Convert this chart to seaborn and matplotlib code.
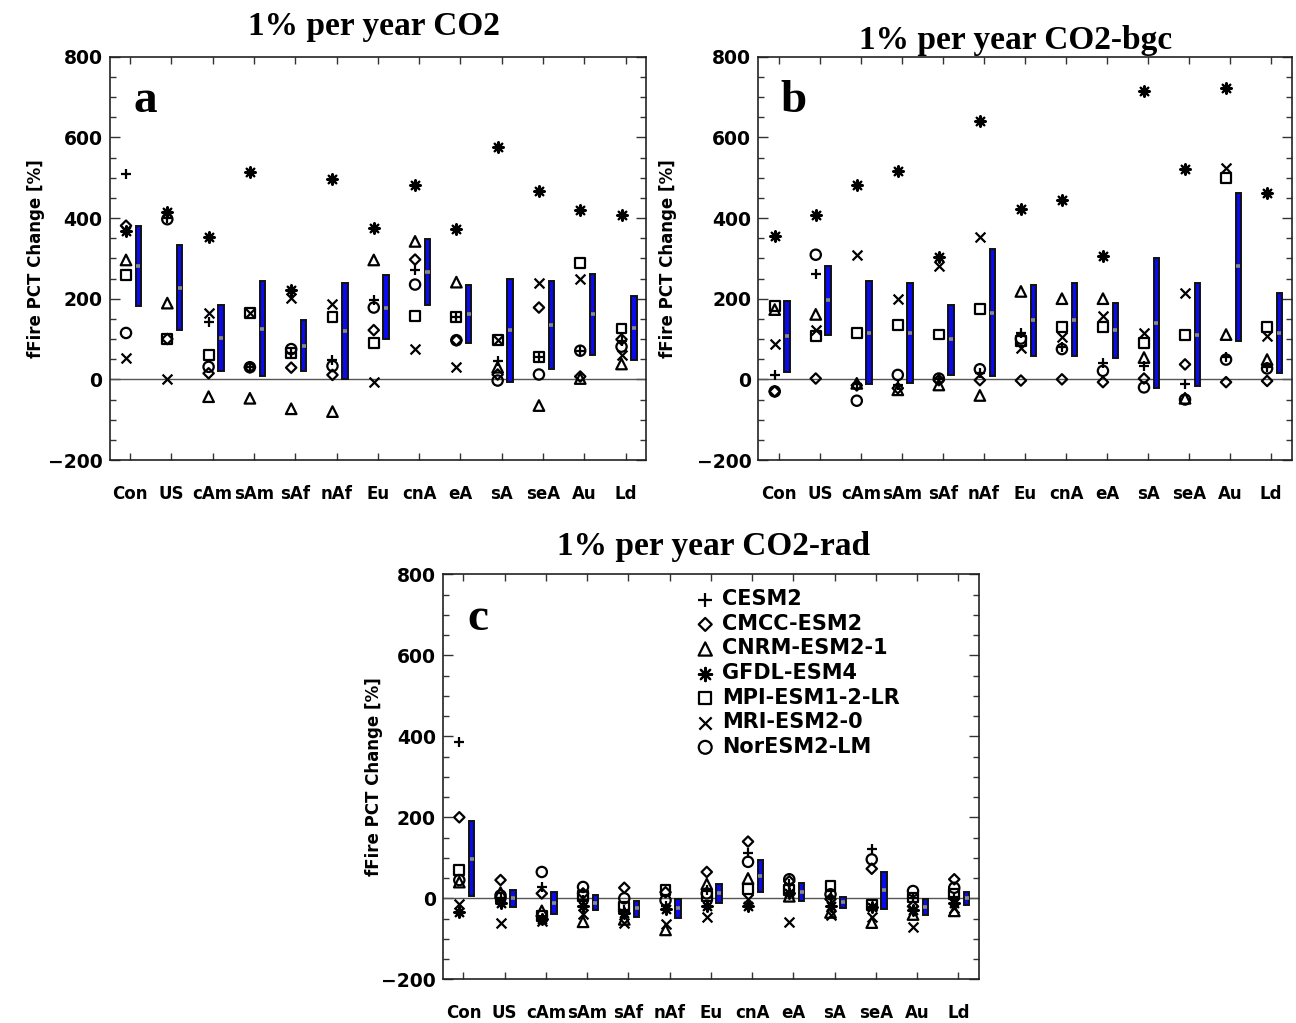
import numpy as np
import pandas as pd
import matplotlib
matplotlib.use("Agg")
import matplotlib.pyplot as plt
import seaborn as sns
from matplotlib.ticker import MultipleLocator, FixedLocator

# ---------------- data ----------------
regions = ["Con", "US", "cAm", "sAm", "sAf", "nAf", "Eu", "cnA", "eA", "sA", "seA", "Au", "Ld"]
models = ["CESM2", "CMCC-ESM2", "CNRM-ESM2-1", "GFDL-ESM4", "MPI-ESM1-2-LR", "MRI-ESM2-0", "NorESM2-LM"]

# Panel a: 1% per year CO2
a_cesm2 = [509, 400, 142, 30, 65, 48, 196, 272, 155, 45, 56, 71, 95]
a_cmcc = [381, 100, 15, 30, 29, 11, 122, 297, 97, 12, 178, 7, 99]
a_cnrm = [296, 189, -43, -47, -73, -80, 296, 342, 241, 30, -65, 2, 38]
a_gfdl = [367, 414, 352, 514, 221, 496, 375, 482, 374, 576, 466, 420, 407]
a_mpi = [259, 101, 60, 165, 65, 155, 91, 157, 155, 97, 56, 288, 126]
a_mri = [52, 2, 165, 165, 202, 188, -6, 75, 30, 97, 240, 249, 60]
a_nor = [115, 397, 31, 30, 75, 33, 178, 235, 97, -3, 12, 71, 81]
a_bar_low = [181, 122, 21, 8, 21, 2, 99, 185, 91, -6, 25, 60, 49]
a_bar_high = [381, 333, 185, 244, 146, 239, 259, 348, 235, 249, 245, 260, 207]
a_bar_mean = [281, 227, 103, 126, 83, 120, 178, 266, 163, 122, 134, 161, 128]

# Panel b: 1% per year CO2-bgc
b_cesm2 = [11, 262, -12, -15, 2, 16, 114, 80, 40, 33, -12, 55, 30]
b_cmcc = [-30, 2, -15, -22, -2, -2, -3, 0, -7, 2, 37, -7, -4]
b_cnrm = [173, 161, -10, -26, -14, -40, 218, 200, 200, 54, -47, 111, 49]
b_gfdl = [355, 407, 481, 517, 303, 640, 422, 444, 305, 714, 521, 723, 463]
b_mpi = [181, 107, 115, 134, 111, 174, 95, 130, 130, 91, 109, 499, 130]
b_mri = [87, 122, 309, 200, 282, 354, 77, 105, 157, 115, 215, 523, 107]
b_nor = [-30, 309, -53, 11, 2, 25, 101, 75, 21, -20, -50, 49, 27]
b_bar_low = [19, 109, -12, -8, 11, 9, 58, 58, 52, -21, -16, 95, 15]
b_bar_high = [194, 282, 245, 239, 185, 322, 233, 239, 190, 301, 239, 462, 215]
b_bar_mean = [107, 196, 116, 115, 99, 165, 146, 148, 122, 140, 111, 280, 114]

# Panel c: 1% per year CO2-rad
c_cesm2 = [385, -2, 28, -5, -30, -20, 20, 111, 35, 2, 121, 0, 2]
c_cmcc = [200, 45, 12, 12, 26, 15, 65, 140, 42, -2, 73, -20, 47]
c_cnrm = [40, 14, -31, -58, -52, -78, 35, 49, 5, -35, -60, -40, -31]
c_gfdl = [-34, -11, -50, -20, -37, -27, -20, -19, 12, -19, -21, -30, -11]
c_mpi = [70, 2, -43, 5, -21, 20, 5, 22, 20, 30, -17, 2, 10]
c_mri = [-15, -62, -56, -38, -62, -64, -45, -2, -58, -40, -45, -72, -23]
c_nor = [45, 7, 65, 28, 0, -5, 12, 90, 47, 10, 96, 18, 26]
c_bar_low = [6, -21, -38, -29, -45, -49, -11, 16, -7, -23, -27, -40, -17]
c_bar_high = [190, 20, 16, 7, -7, -2, 35, 94, 37, 4, 66, -2, 16]
c_bar_mean = [98, 0, -11, -11, -25, -25, 12, 55, 16, -9, 20, -21, 0]

titles = ["1% per year CO2", "1% per year CO2-bgc", "1% per year CO2-rad"]
letters = ["a", "b", "c"]
ylabel = "fFire PCT Change [%]"

panels = [
    ([a_cesm2, a_cmcc, a_cnrm, a_gfdl, a_mpi, a_mri, a_nor], a_bar_low, a_bar_high, a_bar_mean),
    ([b_cesm2, b_cmcc, b_cnrm, b_gfdl, b_mpi, b_mri, b_nor], b_bar_low, b_bar_high, b_bar_mean),
    ([c_cesm2, c_cmcc, c_cnrm, c_gfdl, c_mpi, c_mri, c_nor], c_bar_low, c_bar_high, c_bar_mean),
]

# ---------------- styling ----------------
marker_map = {
    "CESM2": ("+", 60, False),
    "CMCC-ESM2": ("D", 28, True),
    "CNRM-ESM2-1": ("^", 58, True),
    "GFDL-ESM4": ((8, 2, 0), 58, False),
    "MPI-ESM1-2-LR": ("s", 50, True),
    "MRI-ESM2-0": ("x", 50, False),
    "NorESM2-LM": ("o", 55, True),
}

sns.set_theme(style="white")
plt.rcParams['font.family'] = ['DejaVu Sans']
plt.rcParams['text.color'] = 'black'
plt.rcParams['axes.labelcolor'] = 'black'
plt.rcParams['xtick.color'] = 'black'
plt.rcParams['ytick.color'] = 'black'

W, H = 1296, 1023
fig = plt.figure(figsize=(W / 100, H / 100), dpi=100)


def axes_px(l, t, r, b):
    return fig.add_axes([l / W, 1 - b / H, (r - l) / W, (b - t) / H])


axs = [axes_px(109.5, 56.7, 646.3, 460),
       axes_px(758.3, 56.7, 1291.7, 460),
       axes_px(442.8, 574.3, 979, 979.3)]

ylabel_x = [-0.120, -0.152, -0.112]
title_pos = [(374, 27), (1016, 40), (714, 546)]

xpos = np.arange(1, len(regions) + 1)

for k, (ax, (series, blow, bhigh, bmean)) in enumerate(zip(axs, panels)):
    ax.axhline(0, color="#555555", lw=1.0, zorder=1)
    # model markers
    for name, vals in zip(models, series):
        m, s, hollow = marker_map[name]
        df = pd.DataFrame({"x": xpos - 0.1, "y": vals})
        if hollow:
            sns.scatterplot(data=df, x="x", y="y", marker=m, s=s, color="black",
                            facecolors="none", edgecolor="black", linewidth=1.6,
                            ax=ax, legend=False, label=name, zorder=4)
        else:
            sns.scatterplot(data=df, x="x", y="y", marker=m, s=s, color="black",
                            linewidth=1.6, ax=ax, legend=False, label=name, zorder=4)
    # ensemble bars
    blow_a = np.array(blow)
    bhigh_a = np.array(bhigh)
    ax.bar(xpos + 0.2, bhigh_a - blow_a, bottom=blow_a, width=0.13,
           color="#0a0aee", edgecolor="#111111", linewidth=1.4, zorder=3)
    ax.hlines(bmean, xpos + 0.2 - 0.05, xpos + 0.2 + 0.05, color="#8a8a8a",
              lw=2.6, zorder=5)

    ax.set_xlim(0.5, 13.5)
    ax.set_ylim(-200, 800)
    ax.set_xticks(xpos)
    ax.set_xticklabels(regions, fontsize=12, fontweight="bold")
    ax.yaxis.set_major_locator(FixedLocator([-200, 0, 200, 400, 600, 800]))
    ax.yaxis.set_minor_locator(MultipleLocator(50))
    ax.set_yticklabels(["\u2212200", "0", "200", "400", "600", "800"], fontsize=13.5,
                       fontweight="bold")
    ax.tick_params(axis="x", which="major", direction="in", top=True, bottom=True,
                   length=5, width=1, color="#333333", pad=18)
    ax.tick_params(axis="y", which="major", direction="in", left=True, right=True,
                   length=7.5, width=1, color="#333333", pad=5)
    ax.tick_params(axis="y", which="minor", direction="in", left=True, right=True,
                   length=4.5, width=1, color="#333333")
    ax.set_xlabel("")
    ax.set_ylabel(ylabel, fontsize=12, fontweight="bold")
    ax.yaxis.set_label_coords(ylabel_x[k], 0.5)
    for sp in ax.spines.values():
        sp.set_color("#222222")
        sp.set_linewidth(1.2)
    ax.grid(False)
    ax.text(0.066, 0.89, letters[k], transform=ax.transAxes, fontsize=34,
            fontweight="bold", family="Liberation Serif", ha="center", va="center",
            color="black")
    tx, ty = title_pos[k]
    fig.text(tx / W, 1 - ty / H, titles[k], fontsize=24, fontweight="bold",
             family="Liberation Serif", ha="center", va="center", color="black")

# legend in panel c
handles, labels = axs[2].get_legend_handles_labels()
leg = axs[2].legend(handles[:7], labels[:7], loc="upper left", bbox_to_anchor=(0.47, 0.963),
                    frameon=False, prop={"size": 15, "weight": "bold"}, handletextpad=0.3,
                    labelspacing=0.22, borderpad=0, borderaxespad=0, handlelength=1.0,
                    markerscale=1.25)
for t in leg.get_texts():
    t.set_color("black")
for ax in axs[:2]:
    lg = ax.get_legend()
    if lg is not None:
        lg.remove()

fig.savefig("out.png", dpi=100)
